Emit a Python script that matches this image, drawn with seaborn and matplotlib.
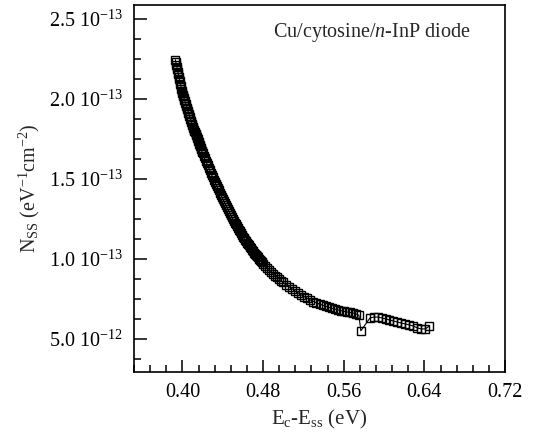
import numpy as np
import pandas as pd
import seaborn as sns
import matplotlib.pyplot as plt
from matplotlib.ticker import MultipleLocator, FixedLocator

# Energia (Ec - Ess, eV) y densidad de estados (en unidades de 1e-13 eV^-1 cm^-2)
energia = [
    0.3930, 0.3935, 0.3940, 0.3945, 0.3950, 0.3955, 0.3960, 0.3965,
    0.3970, 0.3975, 0.3980, 0.3985, 0.3990, 0.3995, 0.4000,
    0.4005, 0.4010, 0.4015, 0.4020, 0.4025, 0.4030, 0.4035, 0.4040,
    0.4045, 0.4050, 0.4055, 0.4060, 0.4065, 0.4070, 0.4075, 0.4080,
    0.4085, 0.4090, 0.4095, 0.4100, 0.4105, 0.4110, 0.4115, 0.4120,
    0.4125, 0.4130, 0.4135, 0.4140, 0.4145, 0.4150, 0.4155, 0.4160,
    0.4165, 0.4170, 0.4175, 0.4180, 0.4185, 0.4190, 0.4195, 0.4200,
    0.421, 0.422, 0.423, 0.424, 0.425, 0.426, 0.427, 0.428, 0.429, 0.430,
    0.431, 0.432, 0.433, 0.434, 0.435, 0.436, 0.437, 0.438, 0.439, 0.440,
    0.441, 0.442, 0.443, 0.444, 0.445, 0.446, 0.447, 0.448, 0.449, 0.450,
    0.451, 0.452, 0.453, 0.454, 0.455, 0.456, 0.457, 0.458, 0.459, 0.460,
    0.461, 0.462, 0.463, 0.464, 0.465, 0.466, 0.467, 0.468, 0.469, 0.470,
    0.471, 0.472, 0.473, 0.474, 0.475, 0.476, 0.477, 0.478, 0.479, 0.480,
    0.482, 0.484, 0.486, 0.488, 0.490, 0.492, 0.494, 0.496, 0.498, 0.500,
    0.503, 0.506, 0.509, 0.512, 0.515, 0.518, 0.521, 0.524, 0.527, 0.530,
    0.533, 0.536, 0.539, 0.542, 0.545, 0.548, 0.551, 0.554, 0.557, 0.560,
    0.563, 0.566, 0.569, 0.572, 0.575, 0.577,
    0.586, 0.590, 0.594, 0.598, 0.602, 0.605, 0.609, 0.613, 0.617, 0.621,
    0.625, 0.629, 0.633, 0.637, 0.641, 0.645,
]
nss_e13 = [
    2.244, 2.229, 2.213, 2.198, 2.183, 2.168, 2.153, 2.138,
    2.123, 2.108, 2.093, 2.078, 2.063, 2.048, 2.034,
    2.024, 2.014, 2.004, 1.994, 1.984, 1.974, 1.964, 1.954,
    1.944, 1.934, 1.924, 1.914, 1.904, 1.894, 1.884, 1.874,
    1.864, 1.854, 1.844, 1.834, 1.825, 1.816, 1.807, 1.799,
    1.790, 1.781, 1.772, 1.764, 1.755, 1.746, 1.737, 1.729,
    1.720, 1.711, 1.702, 1.694, 1.685, 1.676, 1.667, 1.659,
    1.644, 1.629, 1.614, 1.599, 1.584, 1.569, 1.554, 1.539, 1.524, 1.509,
    1.495, 1.482, 1.468, 1.455, 1.441, 1.428, 1.414, 1.401, 1.387, 1.374,
    1.361, 1.349, 1.336, 1.324, 1.311, 1.299, 1.286, 1.274, 1.261, 1.249,
    1.238, 1.227, 1.216, 1.205, 1.194, 1.183, 1.172, 1.161, 1.150, 1.139,
    1.130, 1.121, 1.111, 1.102, 1.093, 1.084, 1.074, 1.065, 1.056, 1.047,
    1.039, 1.032, 1.024, 1.017, 1.009, 1.001, 0.993, 0.986, 0.978, 0.971,
    0.958, 0.946, 0.933, 0.920, 0.907, 0.896, 0.885, 0.875, 0.864, 0.853,
    0.838, 0.825, 0.812, 0.799, 0.787, 0.775, 0.764, 0.753, 0.743, 0.734,
    0.726, 0.718, 0.711, 0.704, 0.698, 0.692, 0.687, 0.682, 0.677, 0.673,
    0.669, 0.666, 0.662, 0.658, 0.648, 0.551,
    0.631, 0.637, 0.637, 0.631, 0.625, 0.619, 0.613, 0.606, 0.600, 0.594,
    0.588, 0.581, 0.569, 0.563, 0.563, 0.581,
]

# Marcas de los ejes tal como aparecen en la figura original
x_ticks = [0.40, 0.48, 0.56, 0.64, 0.72]
x_tick_labels = ["0.40", "0.48", "0.56", "0.64", "0.72"]
y_ticks = [0.5e-13, 1.0e-13, 1.5e-13, 2.0e-13, 2.5e-13]
y_tick_labels = ["5.0 10$^{-12}$", "1.0 10$^{-13}$", "1.5 10$^{-13}$",
                 "2.0 10$^{-13}$", "2.5 10$^{-13}$"]

df = pd.DataFrame({"E": energia, "Nss": np.array(nss_e13) * 1e-13})

sns.set_style("ticks")
plt.rcParams["font.family"] = ["Liberation Serif", "DejaVu Serif"]
plt.rcParams["mathtext.fontset"] = "custom"
plt.rcParams["mathtext.rm"] = "Liberation Serif"
plt.rcParams["mathtext.it"] = "Liberation Serif:italic"
plt.rcParams["mathtext.bf"] = "Liberation Serif:bold"

fig = plt.figure(figsize=(5.39, 4.34), dpi=100)
ax = fig.add_axes([0.2486, 0.1429, 0.6884, 0.8455])

sns.lineplot(data=df, x="E", y="Nss", sort=False, estimator=None,
             color="black", linewidth=0.8, marker="s", markersize=6.3,
             markerfacecolor="none", markeredgecolor="black",
             markeredgewidth=1.0, ax=ax)

ax.set_xlim(0.352, 0.72)
ax.set_ylim(0.294e-13, 2.585e-13)

ax.xaxis.set_major_locator(FixedLocator(x_ticks))
ax.set_xticklabels(x_tick_labels)
ax.xaxis.set_minor_locator(MultipleLocator(0.016))
ax.yaxis.set_major_locator(FixedLocator(y_ticks))
ax.set_yticklabels(y_tick_labels)
ax.yaxis.set_minor_locator(MultipleLocator(0.125e-13))

ax.tick_params(which="both", direction="in", top=False, right=False,
               width=1.1, labelsize=14.5, colors="black")
ax.tick_params(which="major", length=9)
ax.tick_params(which="minor", length=5)
ax.tick_params(axis="x", which="major", pad=8)
ax.tick_params(axis="y", which="major", pad=8)
for s in ax.spines.values():
    s.set_linewidth(1.2)
    s.set_color("black")

ax.set_xlabel("E$_{\\mathrm{c}}$-E$_{\\mathrm{ss}}$ (eV)", fontsize=15, labelpad=4)
ax.set_ylabel("N$_{\\mathrm{SS}}$ (eV$^{-1}$cm$^{-2}$)", fontsize=14.5, labelpad=5)

ax.text(0.375, 0.925, "Cu/cytosine/$n$-InP diode", transform=ax.transAxes,
        fontsize=14.5, ha="left", va="center")

plt.savefig("out.png", dpi=100)
